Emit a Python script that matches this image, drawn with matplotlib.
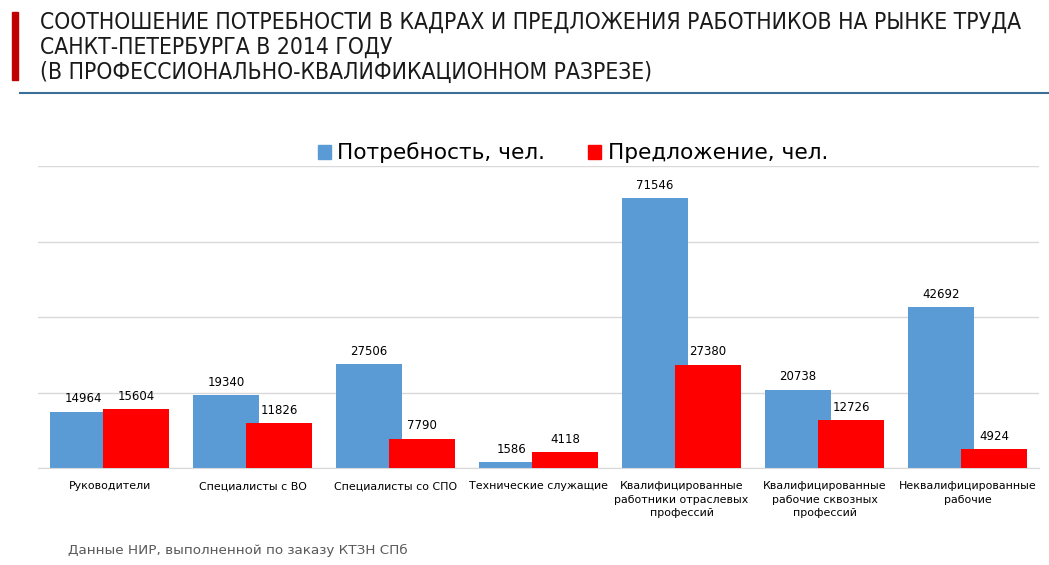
import matplotlib
matplotlib.use("Agg")
import matplotlib.pyplot as plt
import numpy as np
from matplotlib.patches import Rectangle
from matplotlib.lines import Line2D

categories = ["Руководители", "Специалисты с ВО", "Специалисты со СПО",
              "Технические служащие",
              "Квалифицированные\nработники отраслевых\nпрофессий",
              "Квалифицированные\nрабочие сквозных\nпрофессий",
              "Неквалифицированные\nрабочие"]
demand = [14964, 19340, 27506, 1586, 71546, 20738, 42692]
supply = [15604, 11826, 7790, 4118, 27380, 12726, 4924]
series_names = ["Потребность, чел.", "Предложение, чел."]
title_lines = ["СООТНОШЕНИЕ ПОТРЕБНОСТИ В КАДРАХ И ПРЕДЛОЖЕНИЯ РАБОТНИКОВ НА РЫНКЕ ТРУДА",
               "САНКТ-ПЕТЕРБУРГА В 2014 ГОДУ",
               "(В ПРОФЕССИОНАЛЬНО-КВАЛИФИКАЦИОННОМ РАЗРЕЗЕ)"]
footer = "Данные НИР, выполненной по заказу КТЗН СПб"

W, H = 1049, 565
fig = plt.figure(figsize=(W / 100, H / 100), dpi=100)
plt.rcParams['font.family'] = ['DejaVu Sans']

BLUE = "#5B9BD5"
RED = "#FF0000"

# axes: x 38..1039, y 166..468 (pixels)
ax = fig.add_axes([38 / W, 1 - 468 / H, (1039 - 38) / W, (468 - 166) / H])
x = np.arange(len(categories))
bw = 0.46
off = 0.185
ax.bar(x - off, demand, bw, color=BLUE, zorder=2)
ax.bar(x + off, supply, bw, color=RED, zorder=3)
for i in range(len(categories)):
    ax.annotate(f"{demand[i]}", (x[i] - off, demand[i]), xytext=(0, 4.5),
                textcoords="offset points", ha="center", va="bottom", fontsize=8.5, color="#000000")
    ax.annotate(f"{supply[i]}", (x[i] + off, supply[i]), xytext=(0, 4.5),
                textcoords="offset points", ha="center", va="bottom", fontsize=8.5, color="#000000")
ax.set_xlim(-0.5, len(categories) - 0.5)
ax.set_ylim(0, 80000)
ax.set_yticks([0, 20000, 40000, 60000, 80000])
ax.yaxis.grid(True, color="#D9D9D9", lw=1, zorder=0)
ax.set_yticklabels([])
ax.tick_params(axis="y", length=0)
ax.tick_params(axis="x", length=0, pad=9.5)
ax.set_xticks(x)
ax.set_xticklabels(categories, fontsize=7.9, linespacing=1.45, va="top")
for s in ["top", "right", "left"]:
    ax.spines[s].set_visible(False)
ax.spines["bottom"].set_color("#D9D9D9")
ax.set_axisbelow(True)

# legend
handles = [Rectangle((0, 0), 1, 1, color=BLUE), Rectangle((0, 0), 1, 1, color=RED)]
fig.legend(handles, series_names, loc="center", bbox_to_anchor=(573 / W, 1 - 153 / H),
           ncol=2, frameon=False, fontsize=15.6, handlelength=0.6, handleheight=0.6,
           handletextpad=0.3, columnspacing=2.0)

# title
for k, line in enumerate(title_lines):
    fig.text(40 / W, 1 - (22 + k * 25) / H, line, fontsize=16.4, color="#1a1a1a",
             va="center", ha="left", family=["DejaVu Sans"], fontstretch="condensed")
fig.patches.append(Rectangle((12 / W, 1 - 80 / H), 6 / W, 68 / H, transform=fig.transFigure,
                             color="#C00000", figure=fig))
fig.lines.append(Line2D([20 / W, 1.0], [1 - 93 / H, 1 - 93 / H], transform=fig.transFigure,
                        color="#3A6F99", lw=1.5, figure=fig))

fig.text(68 / W, 1 - 550 / H, footer, fontsize=9.7, color="#595959", va="center", ha="left")

fig.savefig("out.png", dpi=100)
